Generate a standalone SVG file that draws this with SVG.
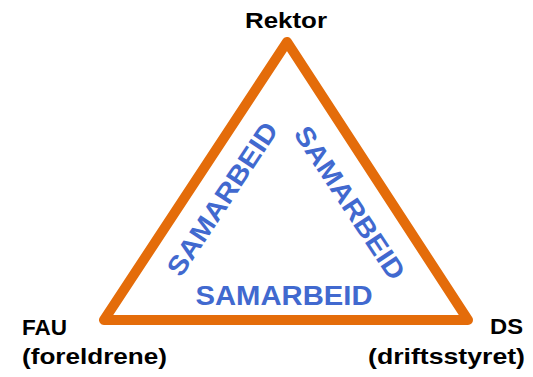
<svg xmlns="http://www.w3.org/2000/svg" width="533" height="377" viewBox="0 0 533 377">
<style>
.lbl{font-family:"Liberation Sans",Arial,sans-serif;font-weight:bold;font-size:22px;fill:#000}
.sam{font-family:"Liberation Sans",Arial,sans-serif;font-weight:bold;font-size:27px;fill:#4169CF}
</style>
<rect width="533" height="377" fill="#fff"/>
<g id="connectors">
<polygon points="287,42 104,320 468,320" fill="none" stroke="#E46C0A" stroke-width="10" stroke-linejoin="round"/>
</g>
<g id="rektor"><text class="lbl" x="286" y="28" text-anchor="middle" textLength="82" lengthAdjust="spacingAndGlyphs">Rektor</text></g>
<g id="fau">
<text class="lbl" x="22" y="335" textLength="45" lengthAdjust="spacingAndGlyphs">FAU</text>
<text class="lbl" x="22" y="364" textLength="145" lengthAdjust="spacingAndGlyphs">(foreldrene)</text>
</g>
<g id="ds">
<text class="lbl" x="490" y="334" textLength="33" lengthAdjust="spacingAndGlyphs">DS</text>
<text class="lbl" x="368" y="364" textLength="157" lengthAdjust="spacingAndGlyphs">(driftsstyret)</text>
</g>
<g id="samarbeid-left"><text class="sam" text-anchor="middle" transform="translate(230,204) rotate(-56.5)" textLength="178" lengthAdjust="spacingAndGlyphs">SAMARBEID</text></g>
<g id="samarbeid-right"><text class="sam" text-anchor="middle" transform="translate(342,208) rotate(56.5)" textLength="178" lengthAdjust="spacingAndGlyphs">SAMARBEID</text></g>
<g id="samarbeid-bottom"><text class="sam" x="284" y="305" text-anchor="middle" textLength="177" lengthAdjust="spacingAndGlyphs">SAMARBEID</text></g>
</svg>
